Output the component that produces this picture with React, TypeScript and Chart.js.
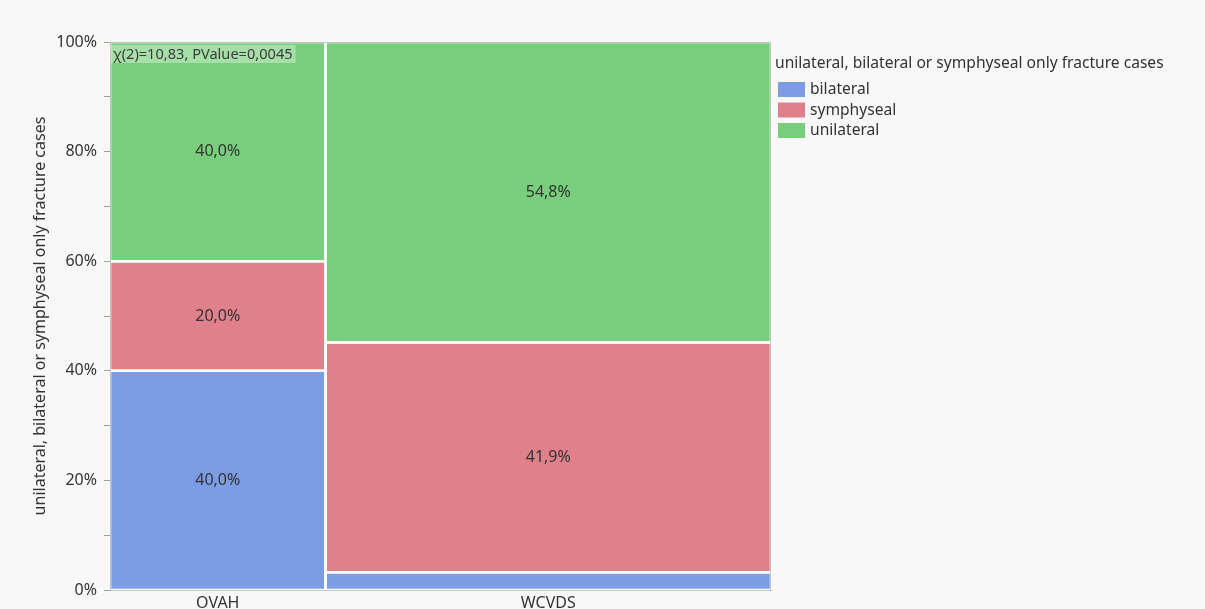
import React, { useEffect, useRef } from "react";
import { Chart, registerables } from "chart.js";

Chart.register(...registerables);

const categories = ["OVAH", "WCVDS"];
const seriesNames = ["bilateral", "symphyseal", "unilateral"];
const bilateral = [6, 1];
const symphyseal = [3, 13];
const unilateral = [6, 17];
const seriesColors = ["#7c9ce4", "#e0808a", "#78ce7c"];
const yTickValues = [0, 20, 40, 60, 80, 100];
const legendTitle = "unilateral, bilateral or symphyseal only fracture cases";
const yTitle = "unilateral, bilateral or symphyseal only fracture cases";
const testText = "χ(2)=10,83, PValue=0,0045";

const FONT = "'Noto Sans', 'Open Sans', sans-serif";
const TEXT = "#333333";
const FRAME = "#c4c4c4";

type Rect = { x0: number; x1: number; y0: number; y1: number; s: number; frac: number };

function buildRects(): Rect[] {
  const series = [bilateral, symphyseal, unilateral];
  const colTotals = categories.map((_, i) => series.reduce((a, s) => a + s[i], 0));
  const grand = colTotals.reduce((a, b) => a + b, 0);
  const rects: Rect[] = [];
  let xAcc = 0;
  categories.forEach((_, i) => {
    const w = colTotals[i] / grand;
    let yAcc = 0;
    series.forEach((s, k) => {
      const h = (s[i] / colTotals[i]) * 100;
      rects.push({ x0: xAcc, x1: xAcc + w, y0: yAcc, y1: yAcc + h, s: k, frac: s[i] / colTotals[i] });
      yAcc += h;
    });
    xAcc += w;
  });
  return rects;
}

function columnCenters(): number[] {
  const series = [bilateral, symphyseal, unilateral];
  const colTotals = categories.map((_, i) => series.reduce((a, s) => a + s[i], 0));
  const grand = colTotals.reduce((a, b) => a + b, 0);
  let acc = 0;
  return colTotals.map((t) => {
    const c = acc + t / grand / 2;
    acc += t / grand;
    return c;
  });
}

export default function App() {
  const ref = useRef<HTMLCanvasElement | null>(null);
  useEffect(() => {
    if (!ref.current) return;
    const rects = buildRects();
    const centers = columnCenters();

    const fills = rects.map((r) => ({
      type: "line" as const,
      label: seriesNames[r.s],
      data: [
        { x: r.x0, y: r.y1 },
        { x: r.x1, y: r.y1 },
      ],
      borderWidth: 0,
      borderColor: "rgba(0,0,0,0)",
      backgroundColor: seriesColors[r.s],
      pointRadius: 0,
      fill: { value: r.y0 },
      order: 2,
      tension: 0,
    }));
    const outlines = rects.map((r) => ({
      type: "line" as const,
      label: "outline",
      data: [
        { x: r.x0, y: r.y0 },
        { x: r.x0, y: r.y1 },
        { x: r.x1, y: r.y1 },
        { x: r.x1, y: r.y0 },
        { x: r.x0, y: r.y0 },
      ],
      borderWidth: 2.5,
      borderColor: "#ffffff",
      backgroundColor: "rgba(0,0,0,0)",
      pointRadius: 0,
      fill: false,
      order: 1,
      tension: 0,
    }));

    const labelPlugin = {
      id: "mosaicLabels",
      afterDatasetsDraw(chart: any) {
        const { ctx, scales, chartArea } = chart;
        const xs = scales.x;
        const ys = scales.y;
        ctx.save();
        ctx.font = `16px ${FONT}`;
        ctx.fillStyle = TEXT;
        ctx.textAlign = "center";
        ctx.textBaseline = "middle";
        rects.forEach((r) => {
          if (r.frac < 0.05) return;
          const cx = xs.getPixelForValue((r.x0 + r.x1) / 2);
          const cy = ys.getPixelForValue((r.y0 + r.y1) / 2);
          ctx.fillText((r.frac * 100).toFixed(1).replace(".", ",") + "%", cx, cy);
        });
        // test annotation
        ctx.font = `14.6px ${FONT}`;
        const tw = ctx.measureText(testText).width;
        ctx.fillStyle = "rgba(255,255,255,0.35)";
        ctx.fillRect(chartArea.left + 1, chartArea.top + 3, tw + 5, 18);
        ctx.fillStyle = "#3c3c3c";
        ctx.textAlign = "left";
        ctx.fillText(testText, chartArea.left + 3, chartArea.top + 12.5);
        // frame
        ctx.strokeStyle = FRAME;
        ctx.lineWidth = 1;
        ctx.strokeRect(chartArea.left + 0.5, chartArea.top + 0.5, chartArea.right - chartArea.left - 1, chartArea.bottom - chartArea.top);
        // legend
        const lx = chartArea.right + 4;
        ctx.font = `15.6px ${FONT}`;
        ctx.fillStyle = TEXT;
        ctx.textAlign = "left";
        ctx.textBaseline = "middle";
        ctx.fillText(legendTitle, lx, chartArea.top + 22);
        seriesNames.forEach((n, i) => {
          const top = chartArea.top + 40 + i * 20.5;
          ctx.fillStyle = seriesColors[i];
          ctx.fillRect(lx + 3, top, 27, 15);
          ctx.fillStyle = TEXT;
          ctx.fillText(n, lx + 35, top + 8);
        });
        ctx.restore();
      },
    };

    const chart = new Chart(ref.current, {
      type: "line",
      data: { datasets: [...fills, ...outlines] as any },
      options: {
        animation: false,
        responsive: true,
        maintainAspectRatio: false,
        layout: { padding: { top: 42, left: 0, right: 434, bottom: 0 } },
        plugins: {
          tooltip: { enabled: false },
          legend: { display: false },
        },
        scales: {
          x: {
            type: "linear",
            min: 0,
            max: 1,
            afterBuildTicks: (scale: any) => {
              scale.ticks = centers.map((v) => ({ value: v }));
            },
            afterFit: (scale: any) => {
              scale.height = 30;
            },
            ticks: {
              color: TEXT,
              font: { family: FONT, size: 16 },
              padding: 4,
              autoSkip: false,
              maxRotation: 0,
              callback: (v: any) => {
                const idx = centers.findIndex((c) => Math.abs(c - Number(v)) < 1e-6);
                return idx >= 0 ? categories[idx] : "";
              },
            },
            grid: { display: false, drawTicks: false },
            border: { display: true, color: FRAME },
          },
          y: {
            type: "linear",
            min: 0,
            max: 100,
            afterBuildTicks: (scale: any) => {
              const t: any[] = [];
              for (let v = 0; v <= 100; v += 10) t.push({ value: v });
              scale.ticks = t;
            },
            afterFit: (scale: any) => {
              scale.width = 110;
            },
            ticks: {
              color: TEXT,
              font: { family: FONT, size: 16 },
              padding: 7,
              autoSkip: false,
              callback: (v: any) => (yTickValues.includes(Number(v)) ? `${v}%` : ""),
            },
            grid: { display: true, drawOnChartArea: false, tickLength: 6, color: "#a0a0a0" },
            border: { display: true, color: FRAME },
            title: {
              display: true,
              text: yTitle,
              color: TEXT,
              font: { family: FONT, size: 16 },
              padding: { top: 31, bottom: 0 },
            },
          },
        },
      },
      plugins: [labelPlugin],
    });
    return () => chart.destroy();
  }, []);

  return (
    <div style={{ position: "fixed", left: 0, top: 0, width: 1205, height: 609, overflow: "hidden", background: "#f8f8f8" }}>
      <div style={{ position: "relative", width: 1205, height: 620 }}>
        <canvas ref={ref} />
      </div>
    </div>
  );
}
